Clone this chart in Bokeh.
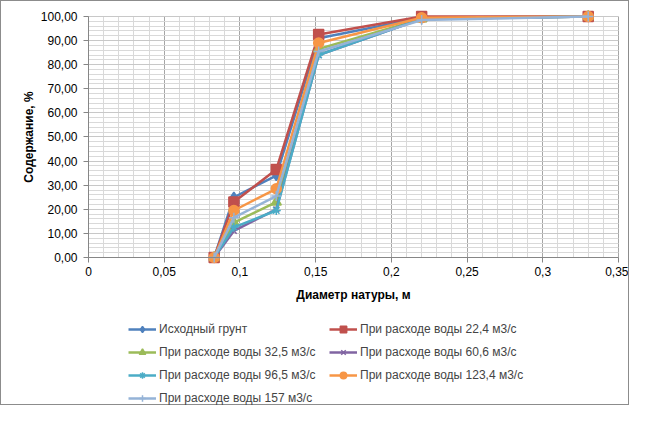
from bokeh.embed import file_html
from bokeh.resources import INLINE
from bokeh.plotting import figure
from bokeh.models import (FixedTicker, Range1d, Legend, LegendItem,
                          CustomJSTickFormatter)

# диаметр натуры, м
diam = [0.083, 0.096, 0.124, 0.152, 0.22, 0.33]

ishodny = [0, 25.0, 34.0, 91.0, 99.5, 100]
q_22_4 = [0, 23.0, 36.5, 92.5, 100, 100]
q_32_5 = [0, 14.5, 23.0, 86.5, 99.0, 100]
q_60_6 = [0, 11.0, 20.0, 84.0, 99.0, 100]
q_96_5 = [0, 12.5, 19.5, 84.0, 99.0, 100]
q_123_4 = [0, 19.5, 28.5, 89.0, 99.5, 100]
q_157 = [0, 16.5, 25.5, 85.5, 98.5, 100]

names = ["Исходный грунт",
         "При расходе воды 22,4 м3/с",
         "При расходе воды 32,5 м3/с",
         "При расходе воды 60,6 м3/с",
         "При расходе воды 96,5 м3/с",
         "При расходе воды 123,4 м3/с",
         "При расходе воды 157 м3/с"]

x_ticks = [0, 0.05, 0.1, 0.15, 0.2, 0.25, 0.3, 0.35]
x_minor = [0.01, 0.02, 0.03, 0.04, 0.06, 0.07, 0.08, 0.09, 0.11, 0.12, 0.13,
           0.14, 0.16, 0.17, 0.18, 0.19, 0.21, 0.22, 0.23, 0.24, 0.26, 0.27,
           0.28, 0.29, 0.31, 0.32, 0.33, 0.34]
y_ticks = [0, 10, 20, 30, 40, 50, 60, 70, 80, 90, 100]
y_minor = [v + d for v in y_ticks[:-1] for d in (2, 4, 6, 8)]

colors = ["#4F81BD", "#C0504D", "#9BBB59", "#8064A2", "#4BACC6", "#F79646", "#95B3D7"]
markers = ["diamond", "square", "triangle", "x", "asterisk", "circle", "cross"]
sizes = [10, 10, 10, 8, 9, 10, 10]
series = [ishodny, q_22_4, q_32_5, q_60_6, q_96_5, q_123_4, q_157]

FONT = "Liberation Sans"

# the frame covers the whole canvas; axes sit at x=0 / y=0 inside it,
# so the legend and tick labels are not clipped
p = figure(width=629, height=405, output_backend="svg", toolbar_location=None,
           x_range=Range1d(-0.05745, 0.35792), y_range=Range1d(-61.83, 106.22),
           min_border_left=0, min_border_right=0, min_border_top=0,
           min_border_bottom=0)
p.outline_line_color = None
p.styles = {"border": "1px solid #8c8c8c"}

p.xaxis.ticker = FixedTicker(ticks=x_ticks, minor_ticks=x_minor)
p.yaxis.ticker = FixedTicker(ticks=y_ticks, minor_ticks=y_minor)
p.xaxis.fixed_location = 0
p.yaxis.fixed_location = 0
p.xaxis.bounds = (0, 0.35)
p.yaxis.bounds = (0, 100)
p.xaxis.formatter = CustomJSTickFormatter(
    code="return String(Math.round(tick*100)/100).replace('.', ',');")
p.yaxis.formatter = CustomJSTickFormatter(
    code="return tick.toFixed(2).replace('.', ',');")

for ax in (p.xaxis, p.yaxis):
    ax.axis_line_color = "#868686"
    ax.major_tick_line_color = "#868686"
    ax.major_tick_out = 5
    ax.major_tick_in = 0
    ax.minor_tick_line_color = None
    ax.major_label_text_font = FONT
    ax.major_label_text_font_size = "12px"
    ax.major_label_text_color = "#000000"
    ax.axis_label_text_font = FONT
    ax.axis_label_text_font_size = "12px"
    ax.axis_label_text_font_style = "bold"
    ax.axis_label_text_color = "#000000"

p.xaxis.axis_label = "Диаметр натуры, м"
p.yaxis.axis_label = "Содержание, %"
p.xaxis.major_label_standoff = 5
p.xaxis.axis_label_standoff = 8
p.yaxis.major_label_standoff = 6
p.yaxis.axis_label_standoff = 2

p.xgrid.grid_line_color = "#A6A6A6"
p.xgrid.minor_grid_line_color = "#D9D9D9"
p.xgrid.cross_bounds = (0, 100)
p.ygrid.grid_line_color = "#C8C8C8"
p.ygrid.minor_grid_line_color = "#D9D9D9"
p.ygrid.cross_bounds = (0, 0.35)

items = []
for ys, name, c, m, s in zip(series, names, colors, markers, sizes):
    ln = p.line(diam, ys, line_color=c, line_width=2.5)
    mk = p.scatter(diam, ys, marker=m, size=s, fill_color=c, line_color=c,
                   line_width=1.5)
    items.append(LegendItem(label=name, renderers=[ln, mk]))

legend = Legend(items=items, orientation="horizontal", ncols=2,
                location=(127, 0), padding=0, margin=0, spacing=7,
                glyph_width=28, glyph_height=16, label_height=16,
                label_width=163, label_standoff=3,
                label_text_font=FONT, label_text_font_size="12px",
                border_line_color=None, background_fill_alpha=0)
p.add_layout(legend, "center")

open("out.html", "w").write(file_html(p, INLINE))
